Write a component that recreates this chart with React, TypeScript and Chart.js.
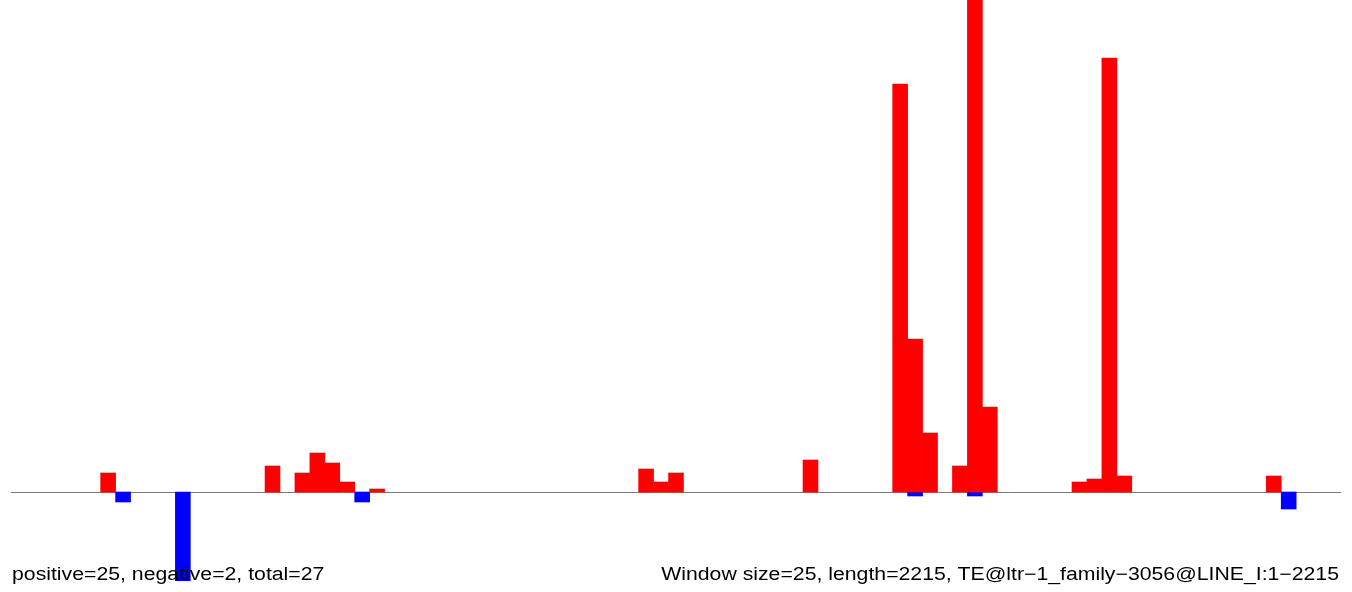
import React, { useEffect, useRef } from "react";
import { Chart, registerables } from "chart.js";

Chart.register(...registerables);

const binCount = 89;
const binLabels: string[] = Array.from({ length: binCount }, (_, i) => String(i + 1));

// [bin index, value]
const positiveBins: [number, number][] = [
  [6, 19], [17, 26], [19, 19], [20, 39], [21, 29], [22, 10], [24, 3],
  [42, 23], [43, 10], [44, 19], [53, 32],
  [59, 408], [60, 153], [61, 59], [63, 26], [64, 492], [65, 85],
  [71, 10], [72, 13], [73, 434], [74, 16], [84, 16],
];
const negativeBins: [number, number][] = [
  [7, -10], [11, -89], [23, -10], [60, -4], [64, -4], [85, -17],
];

const yMin = -89;
const yMax = 492;

const leftText = "positive=25, negative=2, total=27";
const rightText = "Window size=25, length=2215, TE@ltr\u22121_family\u22123056@LINE_I:1\u22122215";

function toSeries(pairs: [number, number][]): (number | null)[] {
  const arr: (number | null)[] = new Array(binCount).fill(null);
  pairs.forEach(([i, v]) => (arr[i] = v));
  return arr;
}

const textStretch = 1.18;

const overlayPlugin = {
  id: "overlay",
  beforeDatasetsDraw(chart: any) {
    const { ctx, chartArea, scales } = chart;
    const y = Math.round(scales.y.getPixelForValue(0)) + 0.5;
    ctx.save();
    ctx.strokeStyle = "#7a7a7a";
    ctx.lineWidth = 1;
    ctx.beginPath();
    ctx.moveTo(chartArea.left, y);
    ctx.lineTo(chartArea.right, y);
    ctx.stroke();
    ctx.restore();
  },
  afterDatasetsDraw(chart: any) {
    const { ctx, chartArea } = chart;
    ctx.save();
    ctx.fillStyle = "#000";
    ctx.font = '18px "Liberation Sans", Arial, sans-serif';
    ctx.textBaseline = "alphabetic";
    ctx.save();
    ctx.translate(chartArea.left + 1, 580);
    ctx.scale(textStretch, 1);
    ctx.textAlign = "left";
    ctx.fillText(leftText, 0, 0);
    ctx.restore();
    ctx.save();
    ctx.translate(chartArea.right - 2, 580);
    ctx.scale(textStretch, 1);
    ctx.textAlign = "right";
    ctx.fillText(rightText, 0, 0);
    ctx.restore();
    ctx.restore();
  },
};

export default function App() {
  const ref = useRef<HTMLCanvasElement | null>(null);
  useEffect(() => {
    if (!ref.current) return;
    const chart = new Chart(ref.current, {
      type: "bar",
      data: {
        labels: binLabels,
        datasets: [
          {
            data: toSeries(positiveBins),
            backgroundColor: "#ff0000",
            borderWidth: 0,
            barPercentage: 1,
            categoryPercentage: 1,
          },
          {
            data: toSeries(negativeBins),
            backgroundColor: "#0000ff",
            borderWidth: 0,
            barPercentage: 1,
            categoryPercentage: 1,
          },
        ],
      },
      options: {
        animation: false,
        responsive: false,
        maintainAspectRatio: false,
        layout: { padding: { left: 11, right: 11, top: 0, bottom: 11 } },
        plugins: { legend: { display: false }, tooltip: { enabled: false } },
        scales: {
          x: { display: false, stacked: true, offset: true },
          y: { display: false, stacked: true, min: yMin, max: yMax },
        },
      },
      plugins: [overlayPlugin],
    });
    return () => chart.destroy();
  }, []);
  return (
    <div style={{ position: "fixed", left: 0, top: 0, width: 1352, height: 592, background: "#fff" }}>
      <canvas ref={ref} width={1352} height={592} style={{ width: 1352, height: 592, display: "block" }} />
    </div>
  );
}
